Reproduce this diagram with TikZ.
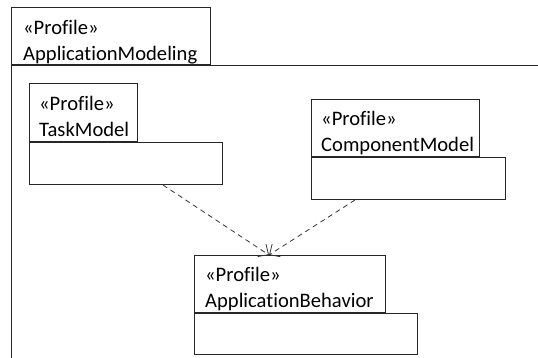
\documentclass[tikz,border=0pt]{standalone}
\usepackage{fontspec}
\setmainfont{Carlito}[Ligatures={NoCommon}]
\usetikzlibrary{arrows.meta}

\tikzset{
  pkgtab/.style={draw=black!85, line width=1pt, inner sep=0pt, anchor=north west},
  pkgbody/.style={draw=black!85, line width=1pt, inner sep=0pt, anchor=north west},
  pkgname/.style={inner sep=0pt, anchor=north west, align=left, font=\fontsize{20.6}{26}\selectfont},
  depends/.style={draw=black!80, line width=0.8pt, dash pattern=on 5pt off 4pt, -{Straight Barb[length=8pt,width=15pt]}}
}

\begin{document}
\begin{tikzpicture}[x=1pt, y=-1pt]
    \useasboundingbox (0,0) rectangle (538,357);
    \clip (0,0) rectangle (538,357);

    % ApplicationModeling (outer profile)
    \node[pkgtab, minimum width=199pt, minimum height=57pt] (appTab) at (11,7) {};
    \node[pkgname] (appName) at ([shift={(12,9)}]appTab.north west) {\strut«Profile»\\\strut ApplicationModeling};
    \node[pkgbody, minimum width=600pt, minimum height=400pt] (appBody) at (appTab.south west) {};

    % TaskModel
    \node[pkgtab, minimum width=108pt, minimum height=58pt] (taskTab) at (29,83) {};
    \node[pkgname] (taskName) at ([shift={(10,9)}]taskTab.north west) {\strut«Profile»\\\strut TaskModel};
    \node[pkgbody, minimum width=193pt, minimum height=42pt] (taskBody) at (taskTab.south west) {};

    % ComponentModel
    \node[pkgtab, minimum width=168pt, minimum height=57pt] (compTab) at (311,99) {};
    \node[pkgname] (compName) at ([shift={(10,8)}]compTab.north west) {\strut«Profile»\\\strut ComponentModel};
    \node[pkgbody, minimum width=194pt, minimum height=42pt] (compBody) at (compTab.south west) {};

    % ApplicationBehavior
    \node[pkgtab, minimum width=191pt, minimum height=57pt] (abTab) at (194,255) {};
    \node[pkgname] (abName) at ([shift={(11,8)}]abTab.north west) {\strut«Profile»\\\strut ApplicationBehavior};
    \node[pkgbody, minimum width=223pt, minimum height=41pt] (abBody) at (abTab.south west) {};

    % Dependencies
    \draw[depends] ([xshift=-60pt]taskBody.south east) -- ([xshift=-21pt]abTab.north);
    \draw[depends] ([xshift=44pt]compBody.south west) -- ([xshift=-21pt]abTab.north);
\end{tikzpicture}
\end{document}
